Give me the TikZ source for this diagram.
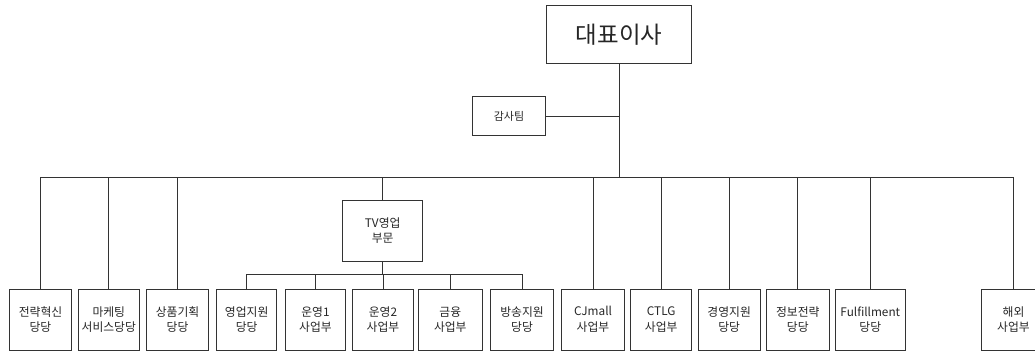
\documentclass[tikz,border=0pt]{standalone}
\usepackage{fontspec}
\setmainfont{Noto Sans CJK KR}
\begin{document}
\begin{tikzpicture}[x=1pt, y=1pt,
  unit/.style={draw=black!80, line width=0.9pt, align=center, inner sep=0pt,
    minimum height=61, text=black!85, font=\fontsize{11.8}{15.5}\selectfont},
  link/.style={draw=black!80, line width=0.9pt}]
\useasboundingbox (0,0) rectangle (1035,351);
% top of the chart
\node[unit, minimum width=145, minimum height=58, font=\fontsize{23.5}{26}\selectfont] (ceo) at (619.2,316.2) {대표이사};
\node[unit, minimum width=73.4, minimum height=39.3, font=\fontsize{11}{13}\selectfont] (audit) at (509,234.7) {감사팀};
% level of the main bus and of the TV bus
\coordinate (bus) at (0,174);
\coordinate (tvbus) at (0,76.7);
% TV sales division
\node[unit, minimum width=80] (tv) at (382.7,120.5) {TV영업\\부문};
% Bottom row
\node[unit, minimum width=62.4] (strat) at (40.5,31.5) {전략혁신\\당당};
\node[unit, minimum width=61] (mkt) at (108.8,31.5) {마케팅\\서비스당당};
\node[unit, minimum width=61.6] (prod) at (177.5,31.5) {상품기획\\당당};
\node[unit, minimum width=60] (sales) at (246.7,31.5) {영업지원\\당당};
\node[unit, minimum width=60] (op1) at (315.5,31.5) {운영1\\사업부};
\node[unit, minimum width=60.6] (op2) at (383,31.5) {운영2\\사업부};
\node[unit, minimum width=64] (fin) at (450.3,31.5) {금융\\사업부};
\node[unit, minimum width=62.6] (bcast) at (522,31.5) {방송지원\\당당};
\node[unit, minimum width=62.3] (cjmall) at (593,31.5) {CJmall\\사업부};
\node[unit, minimum width=61] (ctlg) at (661.2,31.5) {CTLG\\사업부};
\node[unit, minimum width=61.7] (mgmt) at (729.2,31.5) {경영지원\\당당};
\node[unit, minimum width=62.3] (info) at (797.8,31.5) {정보전략\\당당};
\node[unit, minimum width=69.3] (fulfil) at (870.3,31.5) {Fulfillment\\당당};
\node[unit, minimum width=65] (intl) at (1013.5,31.5) {해외\\사업부};
% Trunk, audit branch and main bus
\draw[link] (ceo.south) -- (ceo.south |- bus);
\draw[link] (audit.east) -- (audit.east -| ceo.south);
\draw[link] (strat.north |- bus) -- (intl.north |- bus);
% Drops from the main bus
\draw[link] (strat.north) -- (strat.north |- bus);
\draw[link] (mkt.north) -- (mkt.north |- bus);
\draw[link] (prod.north) -- (prod.north |- bus);
\draw[link] (tv.north) -- (tv.north |- bus);
\draw[link] (cjmall.north) -- (cjmall.north |- bus);
\draw[link] (ctlg.north) -- (ctlg.north |- bus);
\draw[link] (mgmt.north) -- (mgmt.north |- bus);
\draw[link] (info.north) -- (info.north |- bus);
\draw[link] (fulfil.north) -- (fulfil.north |- bus);
\draw[link] (intl.north) -- (intl.north |- bus);
% TV bus and its drops
\draw[link] (tv.south) -- (tv.south |- tvbus);
\draw[link] (sales.north |- tvbus) -- (bcast.north |- tvbus);
\draw[link] (sales.north) -- (sales.north |- tvbus);
\draw[link] (op1.north) -- (op1.north |- tvbus);
\draw[link] (op2.north) -- (op2.north |- tvbus);
\draw[link] (fin.north) -- (fin.north |- tvbus);
\draw[link] (bcast.north) -- (bcast.north |- tvbus);
\end{tikzpicture}
\end{document}
